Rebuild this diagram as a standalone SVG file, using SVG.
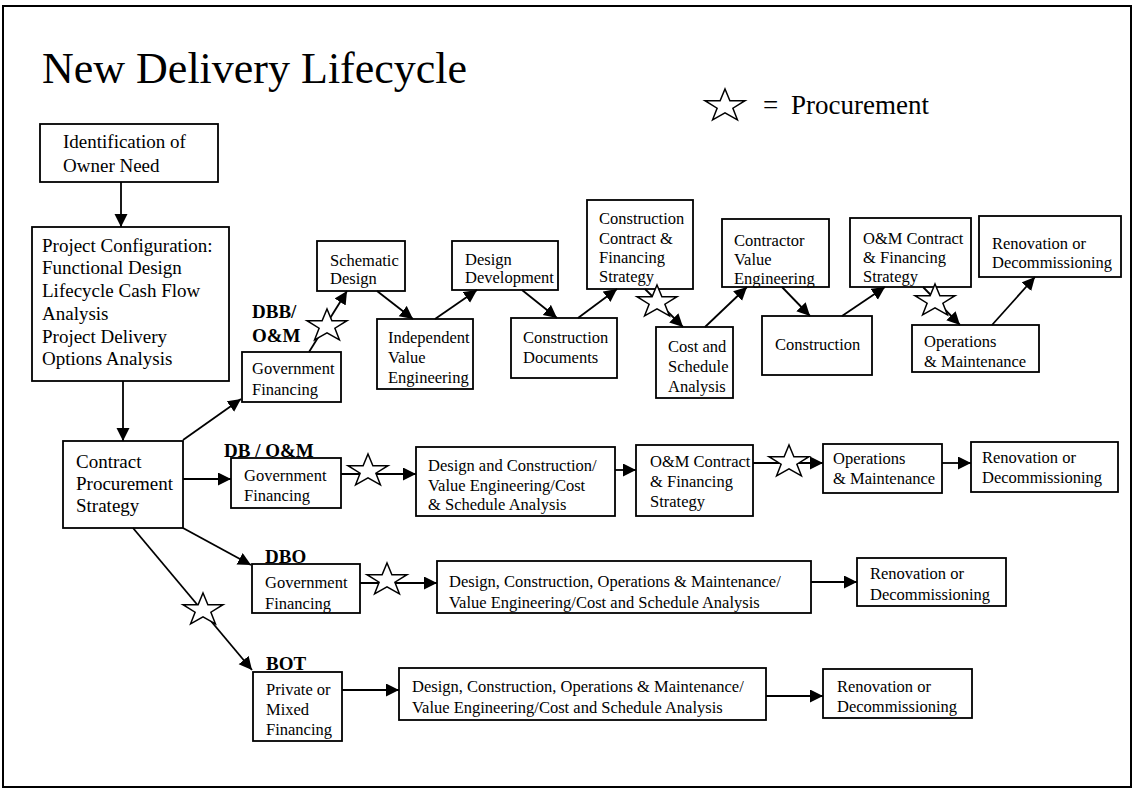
<svg xmlns="http://www.w3.org/2000/svg" xmlns:xlink="http://www.w3.org/1999/xlink" width="1134" height="790" viewBox="0 0 1134 790">
<style>
.box{fill:#fff;stroke:#000;stroke-width:1.8}
.t{font-family:"Liberation Serif","Times New Roman",serif;font-size:16.5px;fill:#000}
.tl{font-family:"Liberation Serif","Times New Roman",serif;font-size:19px;fill:#000}
.lab{font-family:"Liberation Serif","Times New Roman",serif;font-size:19px;font-weight:bold;fill:#000}
.c line{stroke:#000;stroke-width:1.8;marker-end:url(#ah)}
.star{fill:#fff;stroke:#000;stroke-width:1.5;stroke-linejoin:miter}
</style>
<defs>
<marker id="ah" markerUnits="userSpaceOnUse" markerWidth="14" markerHeight="14" refX="13" refY="6.5" orient="auto">
<path d="M0,0 L13,6.5 L0,13 Z" fill="#000"/>
</marker>
<path id="star" d="M0,-17 L4.9,-5.3 L20,-5.3 L7.9,2.2 L12.4,13.8 L0,6.8 L-12.4,13.8 L-7.9,2.2 L-20,-5.3 L-4.9,-5.3 Z"/>
</defs>
<rect width="1134" height="790" fill="#fff"/>
<rect x="3" y="6" width="1128" height="781" fill="none" stroke="#000" stroke-width="2"/>
<text x="42" y="83" font-family="Liberation Serif, Times New Roman, serif" font-size="44" fill="#000">New Delivery Lifecycle</text>
<g id="legend">
<use href="#star" class="star" x="725" y="106"/>
<text x="763" y="114" font-family="Liberation Serif, Times New Roman, serif" font-size="27" fill="#000">=</text>
<text x="791" y="114" font-family="Liberation Serif, Times New Roman, serif" font-size="27" fill="#000">Procurement</text>
</g>

<g id="n-identification"><rect class="box" x="40" y="124" width="178" height="58"/>
<text class="tl" x="63" y="148">Identification of</text><text class="tl" x="63" y="172">Owner Need</text></g>
<g id="n-projconfig"><rect class="box" x="32" y="227" width="197" height="154"/>
<text class="tl" x="42" y="252">Project Configuration:</text><text class="tl" x="42" y="274">Functional Design</text><text class="tl" x="42" y="297">Lifecycle Cash Flow</text><text class="tl" x="42" y="320">Analysis</text><text class="tl" x="42" y="343">Project Delivery</text><text class="tl" x="42" y="365">Options Analysis</text></g>
<g id="n-contract"><rect class="box" x="63" y="441" width="120" height="87"/>
<text class="tl" x="76" y="468">Contract</text><text class="tl" x="76" y="490">Procurement</text><text class="tl" x="76" y="512">Strategy</text></g>

<g id="labels">
<text class="lab" x="252" y="318">DBB/</text><text class="lab" x="252" y="342">O&amp;M</text>
<text class="lab" x="224" y="457">DB / O&amp;M</text>
<text class="lab" x="265" y="563">DBO</text>
<text class="lab" x="266" y="670">BOT</text>
</g>

<g id="n-dbb-gov"><rect class="box" x="242" y="352" width="99" height="50"/>
<text class="t" x="252" y="374">Government</text><text class="t" x="252" y="395">Financing</text></g>
<g id="n-schematic"><rect class="box" x="317" y="241" width="88" height="50"/>
<text class="t" x="330" y="266">Schematic</text><text class="t" x="330" y="284">Design</text></g>
<g id="n-ive"><rect class="box" x="377" y="319" width="96" height="70"/>
<text class="t" x="388" y="343">Independent</text><text class="t" x="388" y="363">Value</text><text class="t" x="388" y="383">Engineering</text></g>
<g id="n-dd"><rect class="box" x="452" y="241" width="106" height="49"/>
<text class="t" x="465" y="265">Design</text><text class="t" x="465" y="283">Development</text></g>
<g id="n-cd"><rect class="box" x="511" y="318" width="106" height="60"/>
<text class="t" x="523" y="343">Construction</text><text class="t" x="523" y="363">Documents</text></g>
<g id="n-ccfs"><rect class="box" x="587" y="200" width="106" height="89"/>
<text class="t" x="599" y="224">Construction</text><text class="t" x="599" y="244">Contract &amp;</text><text class="t" x="599" y="263">Financing</text><text class="t" x="599" y="282">Strategy</text></g>
<g id="n-cost"><rect class="box" x="656" y="327" width="77" height="71"/>
<text class="t" x="668" y="352">Cost and</text><text class="t" x="668" y="372">Schedule</text><text class="t" x="668" y="392">Analysis</text></g>
<g id="n-cve"><rect class="box" x="722" y="219" width="107" height="68"/>
<text class="t" x="734" y="246">Contractor</text><text class="t" x="734" y="265">Value</text><text class="t" x="734" y="284">Engineering</text></g>
<g id="n-construction"><rect class="box" x="762" y="316" width="110" height="59"/>
<text class="t" x="775" y="350">Construction</text></g>
<g id="n-omc"><rect class="box" x="850" y="218" width="121" height="69"/>
<text class="t" x="863" y="244">O&amp;M Contract</text><text class="t" x="863" y="263">&amp; Financing</text><text class="t" x="863" y="282">Strategy</text></g>
<g id="n-ops"><rect class="box" x="912" y="325" width="127" height="47"/>
<text class="t" x="924" y="347">Operations</text><text class="t" x="924" y="367">&amp; Maintenance</text></g>
<g id="n-reno"><rect class="box" x="979" y="216" width="142" height="61"/>
<text class="t" x="992" y="249">Renovation or</text><text class="t" x="992" y="268">Decommissioning</text></g>

<g id="n-db-gov"><rect class="box" x="231" y="458" width="110" height="50"/>
<text class="t" x="244" y="481">Government</text><text class="t" x="244" y="501">Financing</text></g>
<g id="n-db-dc"><rect class="box" x="416" y="447" width="199" height="69"/>
<text class="t" x="428" y="471">Design and Construction/</text><text class="t" x="428" y="491">Value Engineering/Cost</text><text class="t" x="428" y="510">&amp; Schedule Analysis</text></g>
<g id="n-db-omc"><rect class="box" x="636" y="445" width="117" height="71"/>
<text class="t" x="650" y="467">O&amp;M Contract</text><text class="t" x="650" y="487">&amp; Financing</text><text class="t" x="650" y="507">Strategy</text></g>
<g id="n-db-ops"><rect class="box" x="823" y="444" width="119" height="49"/>
<text class="t" x="833" y="464">Operations</text><text class="t" x="833" y="484">&amp; Maintenance</text></g>
<g id="n-db-reno"><rect class="box" x="971" y="442" width="147" height="50"/>
<text class="t" x="982" y="463">Renovation or</text><text class="t" x="982" y="483">Decommissioning</text></g>

<g id="n-dbo-gov"><rect class="box" x="252" y="564" width="108" height="49"/>
<text class="t" x="265" y="588">Government</text><text class="t" x="265" y="609">Financing</text></g>
<g id="n-dbo-dcom"><rect class="box" x="437" y="561" width="374" height="52"/>
<text class="t" x="449" y="587">Design, Construction, Operations &amp; Maintenance/</text><text class="t" x="449" y="608">Value Engineering/Cost and Schedule Analysis</text></g>
<g id="n-dbo-reno"><rect class="box" x="857" y="558" width="149" height="48"/>
<text class="t" x="870" y="579">Renovation or</text><text class="t" x="870" y="600">Decommissioning</text></g>

<g id="n-bot-fin"><rect class="box" x="253" y="672" width="89" height="69"/>
<text class="t" x="266" y="695">Private or</text><text class="t" x="266" y="715">Mixed</text><text class="t" x="266" y="735">Financing</text></g>
<g id="n-bot-dcom"><rect class="box" x="399" y="668" width="367" height="52"/>
<text class="t" x="412" y="692">Design, Construction, Operations &amp; Maintenance/</text><text class="t" x="412" y="713">Value Engineering/Cost and Schedule Analysis</text></g>
<g id="n-bot-reno"><rect class="box" x="823" y="669" width="149" height="49"/>
<text class="t" x="837" y="692">Renovation or</text><text class="t" x="837" y="712">Decommissioning</text></g>

<g id="connectors" class="c">
<line x1="121" y1="182" x2="121" y2="227"/>
<line x1="123" y1="381" x2="123" y2="441"/>
<line x1="183" y1="440" x2="241" y2="399"/>
<line x1="183" y1="479" x2="231" y2="479"/>
<line x1="183" y1="528" x2="251" y2="565"/>
<line x1="133" y1="528" x2="252" y2="670"/>
<line x1="309" y1="352" x2="347" y2="291"/>
<line x1="377" y1="291" x2="413" y2="319"/>
<line x1="435" y1="319" x2="477" y2="290"/>
<line x1="522" y1="290" x2="557" y2="318"/>
<line x1="578" y1="318" x2="617" y2="289"/>
<line x1="645" y1="289" x2="683" y2="327"/>
<line x1="705" y1="327" x2="747" y2="287"/>
<line x1="782" y1="287" x2="810" y2="316"/>
<line x1="842" y1="316" x2="885" y2="287"/>
<line x1="923" y1="287" x2="960" y2="325"/>
<line x1="992" y1="325" x2="1035" y2="277"/>
<line x1="341" y1="474" x2="416" y2="474"/>
<line x1="615" y1="470" x2="636" y2="470"/>
<line x1="753" y1="463" x2="823" y2="463"/>
<line x1="942" y1="463" x2="971" y2="463"/>
<line x1="360" y1="583" x2="437" y2="583"/>
<line x1="811" y1="582" x2="857" y2="582"/>
<line x1="342" y1="690" x2="399" y2="690"/>
<line x1="766" y1="696" x2="823" y2="696"/>
</g>

<g id="procurement-stars">
<use href="#star" class="star" x="327" y="326"/>
<use href="#star" class="star" x="657" y="302"/>
<use href="#star" class="star" x="935" y="301"/>
<use href="#star" class="star" x="368" y="471"/>
<use href="#star" class="star" x="789" y="462"/>
<use href="#star" class="star" x="387" y="580"/>
<use href="#star" class="star" x="203" y="610"/>
</g>
</svg>
